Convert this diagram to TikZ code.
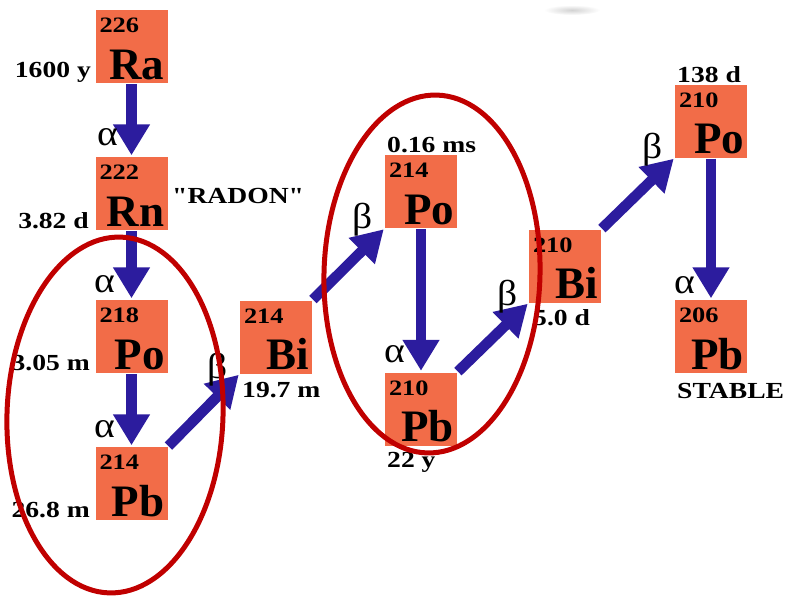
\documentclass[tikz,border=0pt]{standalone}
\usepackage{fontspec}
\setmainfont{Liberation Serif}
\newfontfamily\widefont[FakeStretch=1.2]{Liberation Serif}
\newfontfamily\greekfont[FakeStretch=1.1]{Liberation Serif}
\usetikzlibrary{arrows.meta}

\definecolor{nucorange}{RGB}{242,108,72}
\definecolor{decayblue}{RGB}{44,28,158}
\definecolor{ringred}{RGB}{192,0,0}

\tikzset{
  nucbox/.style={fill=nucorange, minimum width=72pt, minimum height=73pt, inner sep=0pt},
  mass/.style={inner sep=0pt, font=\widefont\bfseries\fontsize{22}{22}\selectfont},
  sym/.style={inner sep=0pt, font=\bfseries\fontsize{45}{45}\selectfont},
  life/.style={inner sep=0pt, font=\widefont\bfseries\fontsize{23}{23}\selectfont},
  greek/.style={inner sep=0pt, anchor=base west, font=\greekfont\fontsize{36}{36}\selectfont},
  decay/.style={draw=decayblue, line width=10.5pt,
    -{Triangle[width=35pt,length=31pt]}, shorten >=1.5pt, shorten <=1pt},
  ring/.style={draw=ringred, line width=5pt}
}

% nuclide box with its mass number and element symbol
\newcommand\nuclide[5]{%
  \node[nucbox] (#1) at (#2,#3) {};
  \node[mass, anchor=base west] (#1-A) at ([xshift=4pt,yshift=-23pt]#1.north west) {#4};
  \node[sym, anchor=base east] (#1-S) at ([xshift=-3pt,yshift=4pt]#1.south east) {#5};
}

\begin{document}
\begin{tikzpicture}[x=1pt, y=-1pt]
\useasboundingbox (0,0) rectangle (788,597);

% faint smudge near the top edge
\shade[inner color=gray!35, outer color=white] (572,10) ellipse [x radius=28pt, y radius=5pt];

% nuclides of the chain
\nuclide{ra}{131.5}{46.5}{226}{Ra}
\nuclide{rn}{131.5}{193.5}{222}{Rn}
\nuclide{poA}{131.5}{336.5}{218}{Po}
\nuclide{pbA}{131.5}{483.5}{214}{Pb}
\nuclide{biA}{276}{337}{214}{Bi}
\nuclide{poB}{421}{191.5}{214}{Po}
\nuclide{pbB}{421}{409}{210}{Pb}
\nuclide{biB}{565}{266}{210}{Bi}
\nuclide{poC}{711}{121}{210}{Po}
\nuclide{pbC}{711}{336.5}{206}{Pb}

% half-lives and notes
\node[life, anchor=base east] (t-ra) at (91,77) {1600 y};
\node[life, anchor=base east] (t-rn) at (89,228) {3.82 d};
\node[life, anchor=base west] (radon) at (172,203) {"RADON"};
\node[life, anchor=base east] (t-poA) at (90,370) {3.05 m};
\node[life, anchor=base east] (t-pbA) at (90,517) {26.8 m};
\node[life, anchor=base west] (t-biA) at (242,397) {19.7 m};
\node[life, anchor=base west] (t-poB) at (387,152) {0.16 ms};
\node[life, anchor=base west] (t-pbB) at (387,467) {22 y};
\node[life, anchor=base west] (t-biB) at (533,325) {5.0 d};
\node[life, anchor=base west] (t-poC) at (677,82) {138 d};
\node[life, anchor=base west] (stable) at (677,398) {STABLE};

% decays
\draw[decay] (ra.south) -- (rn.north);
\draw[decay] (rn.south) -- (poA.north);
\draw[decay] (poA.south) -- (pbA.north);
\draw[decay] (pbA.north east) -- (biA.south west);
\draw[decay] (biA.north east) -- (poB.south west);
\draw[decay] (poB.south) -- (pbB.north);
\draw[decay] (pbB.north east) -- (biB.south west);
\draw[decay] (biB.north east) -- (poC.south west);
\draw[decay] (poC.south) -- (pbC.north);

% decay types
\node[greek] (d1) at (97,145) {α};
\node[greek] (d2) at (94,292) {α};
\node[greek] (d3) at (94,437) {α};
\node[greek] (d4) at (207,378) {β};
\node[greek] (d5) at (352,228) {β};
\node[greek] (d6) at (384,362) {α};
\node[greek] (d7) at (497,305) {β};
\node[greek] (d8) at (642,158) {β};
\node[greek] (d9) at (674,293) {α};

% highlighted groups
\draw[ring, rotate around={-2:(115,415)}] (115,415) ellipse [x radius=108pt, y radius=178pt];
\draw[ring, rotate around={-1.6:(432,274)}] (432,274) ellipse [x radius=108pt, y radius=179pt];
\end{tikzpicture}
\end{document}
